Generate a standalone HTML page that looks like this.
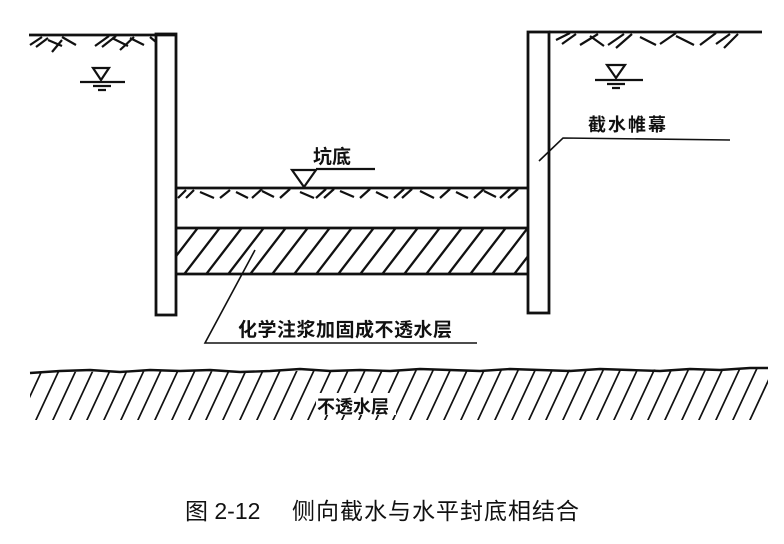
<!DOCTYPE html>
<html><head><meta charset="utf-8"><style>
html,body{margin:0;padding:0;background:#fff;}
svg{display:block;}
text{font-family:"Liberation Sans","Noto Sans CJK SC",sans-serif;fill:#111;font-weight:bold;}
</style></head><body>
<svg width="784" height="544" viewBox="0 0 784 544" xmlns="http://www.w3.org/2000/svg">
<defs>
<clipPath id="lay"><rect x="177" y="228" width="350" height="46"/></clipPath>
<clipPath id="imp"><path d="M30 372 L768 369 L768 420 L30 420 Z"/></clipPath>
</defs>
<g stroke="#111" fill="none" stroke-width="2.8">
<rect x="156" y="34" width="20" height="281" fill="#fff"/>
<rect x="528" y="32" width="21" height="281" fill="#fff"/>
<line x1="29" y1="35" x2="176" y2="35"/>
<line x1="549" y1="32" x2="762" y2="32"/>
<line x1="176" y1="188" x2="528" y2="188"/>
<line x1="176" y1="228" x2="528" y2="228"/>
<line x1="176" y1="274" x2="528" y2="274"/>
</g>
<g stroke="#111" stroke-width="2.3" clip-path="url(#lay)">
<path d="M150 290 l50 -65 M172 290 l50 -65 M194 290 l50 -65 M216 290 l50 -65 M238 290 l50 -65 M260 290 l50 -65 M282 290 l50 -65 M304 290 l50 -65 M326 290 l50 -65 M348 290 l50 -65 M370 290 l50 -65 M392 290 l50 -65 M414 290 l50 -65 M436 290 l50 -65 M458 290 l50 -65 M480 290 l50 -65 M502 290 l50 -65 M524 290 l50 -65"/>
</g>
<g stroke="#111" stroke-width="2.2" fill="none">
<path d="M30 45 l12 -8 M36 47 l12 -9 M48 40 l14 6 M52 52 l10 -12 M62 37 l14 8 M95 46 l14 -10 M102 47 l14 -11 M112 38 l16 8 M120 50 l14 -13 M130 38 l14 7 M150 37 l6 5"/>
<path d="M556 40 l14 -7 M562 44 l14 -10 M580 45 l18 -11 M590 36 l14 10 M608 45 l16 -11 M616 48 l16 -14 M640 37 l16 8 M660 44 l16 -11 M676 36 l18 9 M700 45 l16 -12 M716 44 l14 -10 M724 48 l14 -14"/>
<path d="M178 198 l8 -8 M186 198 l8 -8 M200 192 l14 6 M220 198 l10 -8 M236 192 l12 6 M252 198 l10 -9 M262 191 l12 6 M280 198 l10 -9 M300 192 l14 6 M316 198 l10 -9 M324 198 l10 -9 M340 191 l14 6 M360 198 l10 -9 M376 192 l12 6 M394 198 l10 -9 M402 198 l10 -9 M420 191 l14 7 M440 198 l10 -9 M456 192 l12 6 M474 198 l10 -9 M484 191 l12 6 M500 198 l10 -9 M508 198 l10 -9"/>
<path d="M93 68 L109 68 L101 80 Z M80 82 L125 82 M93 86 L111 86 M98 90 L106 90"/>
<path d="M607 65 L625 65 L616 78 Z M595 80 L643 80 M607 84 L625 84 M612 88 L620 88"/>
<path d="M292 170 L316 170 L304 187 Z M316 169 L375 169"/>
<path d="M539 161 L563 138 L730 140" stroke-width="1.6"/>
<path d="M255 250 L205 343 L477 343" stroke-width="1.6"/>
<path d="M30 373 L60 371 L90 370 L120 372 L150 370 L180 371 L210 370 L240 372 L270 371 L300 369 L330 371 L360 370 L390 371 L420 369 L450 370 L480 371 L510 369 L540 370 L570 371 L600 369 L630 370 L660 371 L690 369 L720 370 L750 368 L768 368" stroke-width="2.4"/>
</g>
<g stroke="#111" stroke-width="1.7" clip-path="url(#imp)">
<path d="M18 422 l27 -58 M35 422 l27 -58 M52 422 l27 -58 M69 422 l27 -58 M86 422 l27 -58 M103 422 l27 -58 M120 422 l27 -58 M137 422 l27 -58 M154 422 l27 -58 M171 422 l27 -58 M188 422 l27 -58 M205 422 l27 -58 M222 422 l27 -58 M239 422 l27 -58 M256 422 l27 -58 M273 422 l27 -58 M290 422 l27 -58 M307 422 l27 -58 M324 422 l27 -58 M341 422 l27 -58 M358 422 l27 -58 M375 422 l27 -58 M392 422 l27 -58 M409 422 l27 -58 M426 422 l27 -58 M443 422 l27 -58 M460 422 l27 -58 M477 422 l27 -58 M494 422 l27 -58 M511 422 l27 -58 M528 422 l27 -58 M545 422 l27 -58 M562 422 l27 -58 M579 422 l27 -58 M596 422 l27 -58 M613 422 l27 -58 M630 422 l27 -58 M647 422 l27 -58 M664 422 l27 -58 M681 422 l27 -58 M698 422 l27 -58 M715 422 l27 -58 M732 422 l27 -58 M749 422 l27 -58"/>
</g>
<rect x="316" y="393" width="80" height="22" fill="#fff"/>
<text x="313" y="163" font-size="19">坑底</text>
<text x="588" y="131" font-size="18" letter-spacing="2">截水帷幕</text>
<text x="238" y="336" font-size="19" letter-spacing="0.5">化学注浆加固成不透水层</text>
<text x="317" y="413" font-size="18">不透水层</text>
<text x="185" y="519" font-size="23" style="font-weight:normal">图 2-12</text>
<text x="292" y="519" font-size="23" letter-spacing="1" style="font-weight:normal">侧向截水与水平封底相结合</text>
</svg>
</body></html>
